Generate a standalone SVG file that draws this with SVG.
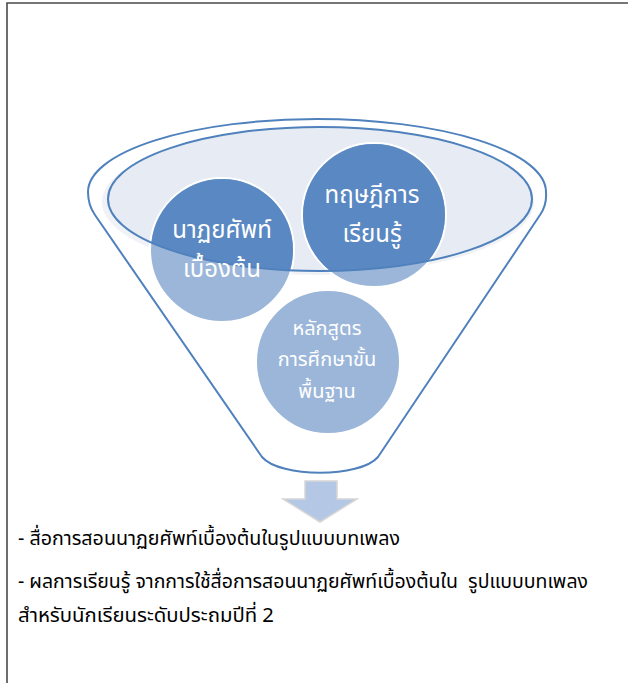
<svg xmlns="http://www.w3.org/2000/svg" width="628" height="683" viewBox="0 0 628 683">
<style>
.ctext{font-family:"Noto Sans","Noto Sans Thai","DejaVu Sans",sans-serif;fill:#ffffff;text-anchor:middle}
.btext{font-family:"Noto Sans","Noto Sans Thai","Liberation Serif",serif;fill:#000000;font-size:20px;white-space:pre}
.circ{fill:#9bb6d9;stroke:#ffffff;stroke-width:2}
.dark{fill:#5a88c3}
</style>
<defs>
<clipPath id="ellClip"><ellipse cx="320" cy="199" rx="212" ry="72"/></clipPath>
</defs>
<path d="M7,683 V3 H628" fill="none" stroke="#4a4a4a" stroke-width="1.6"/>
<g id="funnel">
<path d="M88,192 A229,73 0 0 1 546,192 Q547,205 540,215 L378,457 C360,478 280,478 262,457 L95,215 Q88,205 88,192 Z" fill="#ffffff" stroke="#4f81bd" stroke-width="2"/>
<ellipse cx="318" cy="202" rx="216" ry="73" fill="#f0f2f5"/>
<ellipse cx="320" cy="199" rx="212" ry="72" fill="#e6ebf4"/>
</g>
<g id="node-nataya">
<circle class="circ" cx="222" cy="250" r="72"/>
<circle class="dark" cx="222" cy="250" r="71" clip-path="url(#ellClip)"/>
</g>
<g id="node-theory">
<circle class="circ" cx="374" cy="215" r="72"/>
<circle class="dark" cx="374" cy="215" r="71" clip-path="url(#ellClip)"/>
</g>
<g id="node-curriculum">
<circle class="circ" cx="328" cy="362" r="72"/>
</g>
<ellipse cx="320" cy="199" rx="212" ry="72" fill="none" stroke="#4f81bd" stroke-width="2"/>
<g id="labels">
<text class="ctext" font-size="24" x="222" y="238">นาฏยศัพท์</text>
<text class="ctext" font-size="24" x="222" y="277">เบื้องต้น</text>
<text class="ctext" font-size="24" x="372" y="203">ทฤษฎีการ</text>
<text class="ctext" font-size="24" x="372" y="242">เรียนรู้</text>
<text class="ctext" font-size="20" x="327" y="335">หลักสูตร</text>
<text class="ctext" font-size="20" x="327" y="366">การศึกษาขั้น</text>
<text class="ctext" font-size="20" x="327" y="398">พื้นฐาน</text>
</g>
<g id="connectors">
<path d="M305,481 H337 V499 H357 L320,522 L283,499 H305 Z" fill="#b4c7e4" stroke="#d6d6d6" stroke-width="1.5"/>
</g>
<g id="result-text">
<text class="btext" x="18" y="545" textLength="382" lengthAdjust="spacingAndGlyphs">- สื่อการสอนนาฏยศัพท์เบื้องต้นในรูปแบบบทเพลง</text>
<text class="btext" x="18" y="588" textLength="570" lengthAdjust="spacingAndGlyphs" xml:space="preserve">- ผลการเรียนรู้ จากการใช้สื่อการสอนนาฏยศัพท์เบื้องต้นใน  รูปแบบบทเพลง</text>
<text class="btext" x="18" y="622" textLength="256" lengthAdjust="spacingAndGlyphs">สำหรับนักเรียนระดับประถมปีที่ 2</text>
</g>
</svg>
